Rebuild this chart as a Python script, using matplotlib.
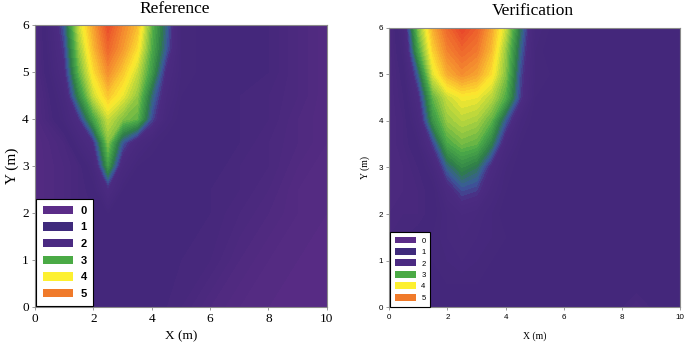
import numpy as np
import matplotlib
matplotlib.use("Agg")
import matplotlib.pyplot as plt
from matplotlib.colors import LinearSegmentedColormap
from matplotlib.patches import Patch

# ---- reference field (coarse grid) ----
ref_x = [0, 1, 1.5, 2, 2.5, 3, 3.5, 4, 4.5, 5, 6, 7, 8, 9, 10]
ref_y = [0, 1, 2, 2.5, 3, 3.5, 4, 4.5, 5, 5.5, 6]
ref_z = [
    [0.3, 0.6, 0.8, 0.9, 1.0, 1.0, 1.0, 1.0, 0.9, 0.8, 0.5, 0.3, 0.2, 0.2, 0.2],
    [0.3, 0.6, 0.8, 0.9, 1.0, 1.0, 1.0, 1.0, 1.0, 0.9, 0.8, 0.5, 0.3, 0.2, 0.2],
    [0.3, 0.6, 0.8, 0.9, 1.1, 1.0, 1.0, 1.0, 1.0, 1.0, 0.9, 0.7, 0.5, 0.3, 0.2],
    [0.3, 0.6, 0.8, 1.0, 1.7, 1.1, 1.0, 1.0, 1.0, 1.0, 0.9, 0.8, 0.6, 0.3, 0.2],
    [0.3, 0.6, 0.8, 1.3, 2.8, 1.5, 1.1, 1.0, 1.0, 1.0, 1.0, 0.8, 0.7, 0.4, 0.2],
    [0.3, 0.7, 1.3, 1.8, 3.3, 2.1, 1.5, 1.2, 1.0, 1.0, 1.0, 0.9, 0.7, 0.5, 0.3],
    [0.4, 1.2, 1.8, 2.9, 3.7, 3.3, 3.1, 2.0, 1.3, 1.0, 1.0, 0.9, 0.8, 0.5, 0.3],
    [0.4, 1.4, 2.6, 3.7, 4.3, 3.9, 3.4, 2.3, 1.5, 1.1, 1.0, 0.9, 0.8, 0.6, 0.3],
    [0.5, 1.7, 3.1, 4.1, 4.8, 4.3, 3.7, 2.8, 1.7, 1.2, 1.0, 1.0, 0.9, 0.6, 0.3],
    [0.5, 1.9, 3.4, 4.4, 5.2, 4.7, 4.1, 3.0, 2.1, 1.2, 1.0, 1.0, 0.9, 0.6, 0.3],
    [0.5, 2.1, 3.7, 4.6, 5.5, 4.9, 4.4, 3.1, 2.2, 1.2, 1.0, 1.0, 0.9, 0.6, 0.3],
]

# ---- verification field (0.5 m grid) ----
ver_x = [0, 0.5, 1, 1.5, 2, 2.5, 3, 3.5, 4, 4.5, 5, 5.5, 6, 6.5, 7, 7.5, 8, 8.5, 9, 9.5, 10]
ver_y = [0, 0.5, 1, 1.5, 2, 2.5, 3, 3.5, 4, 4.5, 5, 5.5, 6]
ver_z = [
    [1.0, 1.0, 1.0, 1.0, 1.0, 1.0, 1.0, 1.0, 1.0, 1.0, 1.0, 1.0, 1.0, 1.0, 1.0, 1.0, 0.9, 0.7, 0.9, 1.0, 1.0],
    [1.0, 1.0, 1.0, 1.0, 1.1, 1.1, 1.1, 1.0, 1.0, 1.0, 1.0, 1.0, 1.0, 1.0, 1.0, 1.0, 1.0, 1.0, 1.0, 1.0, 1.0],
    [0.9, 0.9, 1.0, 1.1, 1.2, 1.3, 1.2, 1.1, 1.0, 1.0, 1.0, 1.0, 1.0, 1.0, 1.0, 1.0, 1.0, 1.0, 1.0, 1.0, 1.0],
    [0.8, 0.9, 1.0, 1.1, 1.3, 1.4, 1.3, 1.2, 1.1, 1.0, 1.0, 1.0, 1.0, 1.0, 1.0, 1.0, 1.0, 1.0, 1.0, 1.0, 1.0],
    [0.7, 0.8, 0.8, 1.0, 1.3, 1.5, 1.4, 1.2, 1.0, 1.0, 1.0, 1.0, 1.0, 1.0, 1.0, 1.0, 1.0, 1.0, 1.0, 1.0, 1.0],
    [0.6, 0.7, 0.8, 1.0, 1.6, 2.0, 1.9, 1.4, 1.1, 1.0, 1.0, 1.0, 1.0, 1.0, 1.0, 1.0, 1.0, 1.0, 1.0, 1.0, 1.0],
    [0.6, 0.7, 0.9, 1.3, 2.2, 2.6, 2.4, 1.7, 1.2, 1.0, 1.0, 1.0, 1.0, 1.0, 1.0, 1.0, 1.0, 1.0, 1.0, 1.0, 1.0],
    [0.6, 0.8, 1.1, 1.9, 2.95, 3.2, 3.1, 2.5, 1.5, 1.1, 1.0, 1.0, 1.0, 1.0, 1.0, 1.0, 1.0, 1.0, 1.0, 1.0, 1.0],
    [0.6, 0.8, 1.4, 2.7, 3.4, 3.6, 3.5, 3.1, 2.1, 1.3, 1.0, 1.0, 1.0, 1.0, 1.0, 1.0, 1.0, 1.0, 1.0, 1.0, 1.0],
    [0.6, 0.9, 1.7, 3.1, 3.7, 3.95, 3.9, 3.6, 3.0, 1.9, 1.1, 1.0, 1.0, 1.0, 1.0, 1.0, 1.0, 1.0, 1.0, 1.0, 1.0],
    [0.6, 1.0, 2.2, 3.8, 4.5, 4.8, 4.6, 4.1, 3.3, 2.0, 1.2, 1.1, 1.0, 1.0, 1.0, 1.0, 1.0, 1.0, 1.0, 1.0, 1.0],
    [0.6, 1.2, 2.9, 4.2, 4.9, 5.2, 5.0, 4.4, 3.4, 2.2, 1.2, 1.0, 1.0, 1.0, 1.0, 1.0, 1.0, 1.0, 1.0, 1.0, 1.0],
    [0.6, 1.4, 3.3, 4.5, 5.2, 5.6, 5.3, 4.6, 3.7, 2.4, 1.3, 1.1, 1.0, 1.0, 1.0, 1.0, 1.0, 1.0, 1.0, 1.0, 1.0],
]

legend_labels = ["0", "1", "2", "3", "4", "5"]
legend_colors = ["#5b2c88", "#3f2a7c", "#4b2a82", "#4aaa45", "#fdf030", "#f07a2a"]

zmax = 5.6
stops = [
    (0.0, "#5a2c85"), (1.0, "#43277a"), (1.8, "#4c2b82"), (2.1, "#3a5a9c"),
    (2.5, "#2e7e48"), (3.0, "#4baa48"), (3.5, "#a6d040"), (4.0, "#fdeb2e"),
    (4.5, "#f8b030"), (5.0, "#f27a2e"), (5.6, "#e8452a"),
]
cmap = LinearSegmentedColormap.from_list("plume", [(v / zmax, c) for v, c in stops])
levels = np.arange(0, zmax + 0.1, 0.1)

fig = plt.figure(figsize=(6.85, 3.42), dpi=100)
serif = "Liberation Serif"
sans = "Liberation Sans"


def style_axes(ax, tick_font, tick_size):
    ax.set_xlim(0, 10)
    ax.set_ylim(0, 6)
    ax.set_xticks([0, 2, 4, 6, 8, 10])
    ax.set_yticks([0, 1, 2, 3, 4, 5, 6])
    for s in ax.spines.values():
        s.set_color("#8a8a8a")
        s.set_linewidth(0.8)
    ax.tick_params(direction="out", length=2.5, width=0.6, color="#8a8a8a", pad=2,
                   labelsize=tick_size)
    for lab in ax.get_xticklabels() + ax.get_yticklabels():
        lab.set_fontfamily(tick_font)


# left: Reference
ax1 = fig.add_axes([0.0511, 0.103, 0.426, 0.824])
ax1.contourf(ref_x, ref_y, ref_z, levels=levels, cmap=cmap, extend="both")
style_axes(ax1, serif, 9.5)
ax1.set_xlabel("X (m)", fontfamily=serif, fontsize=9.5, labelpad=4)
ax1.set_ylabel("Y (m)", fontfamily=serif, fontsize=11, labelpad=2)
fig.text(175 / 685, 1 - 9 / 342, "Reference", ha="center", va="center",
         fontfamily=serif, fontsize=12.5)
h1 = [Patch(facecolor=c, edgecolor="none") for c in legend_colors]
leg1 = ax1.legend(h1, legend_labels, loc="lower left", bbox_to_anchor=(0.0, 0.0),
                  prop={"family": sans, "weight": "bold", "size": 8},
                  handlelength=2.7, handleheight=0.75, labelspacing=0.6,
                  handletextpad=0.7, borderpad=0.6, borderaxespad=0.1,
                  fancybox=False, framealpha=1, edgecolor="black")
leg1.get_frame().set_linewidth(0.8)

# right: Verification
ax2 = fig.add_axes([0.5683, 0.1015, 0.4245, 0.8175])
ax2.contourf(ver_x, ver_y, ver_z, levels=levels, cmap=cmap, extend="both")
style_axes(ax2, sans, 5.8)
ax2.set_xlabel("X (m)", fontfamily=serif, fontsize=7, labelpad=8)
ax2.set_ylabel("Y (m)", fontfamily=serif, fontsize=7, labelpad=6)
fig.text(533 / 685, 1 - 11 / 342, "Verification", ha="center", va="center",
         fontfamily=serif, fontsize=12.5)
h2 = [Patch(facecolor=c, edgecolor="none") for c in legend_colors]
leg2 = ax2.legend(h2, legend_labels, loc="lower left", bbox_to_anchor=(0.0, 0.0),
                  prop={"family": sans, "size": 5.5},
                  handlelength=2.8, handleheight=1.0, labelspacing=0.45,
                  handletextpad=0.7, borderpad=0.6, borderaxespad=0.1,
                  fancybox=False, framealpha=1, edgecolor="black")
leg2.get_frame().set_linewidth(0.8)

fig.savefig("out.png", dpi=100)
